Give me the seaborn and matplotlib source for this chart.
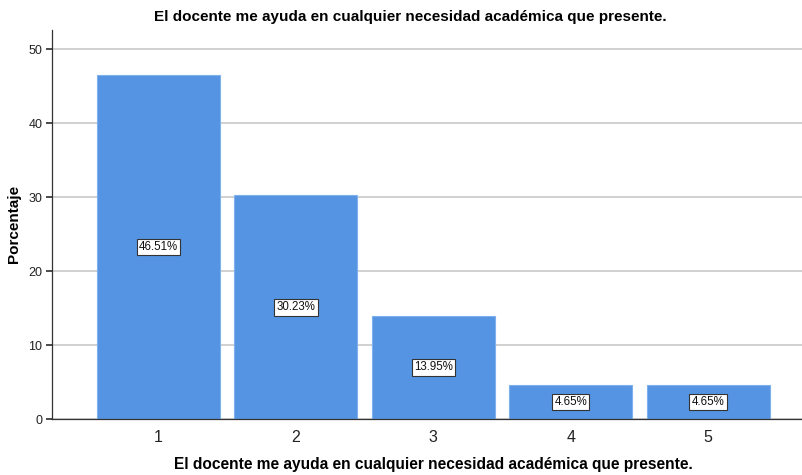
import matplotlib
matplotlib.use("Agg")
import matplotlib.pyplot as plt
import seaborn as sns
import pandas as pd

categories = ["1", "2", "3", "4", "5"]
percentages = [46.51, 30.23, 13.95, 4.65, 4.65]
title = "El docente me ayuda en cualquier necesidad académica que presente."

sns.set_theme(style="white")
plt.rcParams['font.family'] = ['Liberation Sans', 'DejaVu Sans']

df = pd.DataFrame({"cat": categories, "pct": percentages})

fig = plt.figure(figsize=(8.03, 4.75), dpi=100)
ax = fig.add_axes([52/803, 56/475, (803-52)/803, (419-30)/475])

ax.set_axisbelow(True)
ax.yaxis.grid(True, color="#c8c8c8", linewidth=1.2)
sns.barplot(data=df, x="cat", y="pct", ax=ax, color="#5594e3", width=0.895,
            saturation=1, edgecolor="#7fb0ee", linewidth=0.8)

for i, v in enumerate(percentages):
    ax.text(i, v/2, f"{v:.2f}%", ha="center", va="center", fontsize=8.3, color="#111111",
            bbox=dict(boxstyle="square,pad=0.2", facecolor="white", edgecolor="#333333", linewidth=0.8))

ax.set_xlim(-0.775, 4.69)
ax.set_ylim(0, 52.6)
ax.set_yticks([0, 10, 20, 30, 40, 50])
ax.tick_params(axis="y", labelsize=9, length=4, color="#333333", left=True, pad=3)
ax.tick_params(axis="x", labelsize=11.5, length=0, pad=8)
for lab in ax.get_yticklabels() + ax.get_xticklabels():
    lab.set_color("#222222")

for s in ["top", "right"]:
    ax.spines[s].set_visible(False)
ax.spines["left"].set_color("#333333")
ax.spines["bottom"].set_color("#333333")
ax.spines["left"].set_linewidth(0.9)
ax.spines["bottom"].set_linewidth(0.9)

ax.set_xlabel("")
ax.set_ylabel("")
fig.text(433/803, 1 - 465/475, title, ha="center", va="center", fontsize=11.2, fontweight="bold", color="black")
fig.text(14/803, 1 - 224/475, "Porcentaje", ha="center", va="center", rotation=90, fontsize=11, fontweight="bold", color="black")
fig.text(410/803, 1 - 17/475, title, ha="center", va="center", fontsize=11, fontweight="bold", color="black")

fig.savefig("out.png", dpi=100)
